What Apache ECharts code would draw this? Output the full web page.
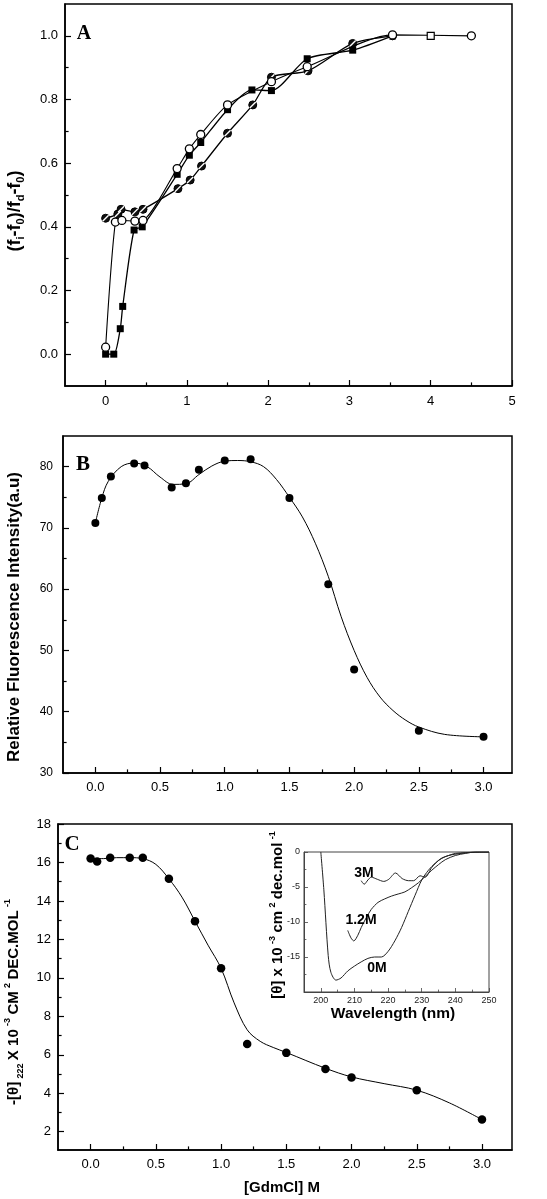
<!DOCTYPE html>
<html><head><meta charset="utf-8">
<script src="https://cdn.jsdelivr.net/npm/echarts@6/dist/echarts.min.js"></script>
<style>html,body{margin:0;padding:0;background:#fff}#c{width:547px;height:1199px}</style>
</head><body><div id="c"></div>
<script>
// ---------- Panel A ----------
const aSquareX = [0,0.1,0.18,0.21,0.35,0.45,0.88,1.03,1.17,1.5,1.8,2.04,2.48,3.04,3.53];
const aSquareY = [0,0,0.08,0.15,0.39,0.4,0.565,0.625,0.665,0.768,0.83,0.828,0.928,0.955,1.0];
const aOpenX = [0,0.12,0.2,0.36,0.46,0.88,1.03,1.17,1.5,2.04,2.48,3.53,4.5];
const aOpenY = [0.022,0.415,0.42,0.418,0.42,0.583,0.645,0.69,0.783,0.856,0.903,1.003,1.0];
const aSlashX = [0,0.15,0.19,0.36,0.46,0.89,1.04,1.18,1.5,1.81,2.04,2.49,3.04,3.53];
const aSlashY = [0.427,0.44,0.455,0.447,0.455,0.52,0.547,0.591,0.694,0.783,0.87,0.89,0.976,1.0];
const aBoxX = [4.0];
const aBoxY = [1.0];
const aXMajor = [0,1,2,3,4,5];
const aXMinor = [0.5,1.5,2.5,3.5,4.5];
const aYMajor = [0,0.2,0.4,0.6,0.8,1.0];
const aYMinor = [0.1,0.3,0.5,0.7,0.9];

// ---------- Panel B ----------
const bX = [0,0.05,0.12,0.3,0.38,0.59,0.7,0.8,1.0,1.2,1.5,1.8,2.0,2.5,3.0];
const bY = [70.8,74.9,78.4,80.5,80.2,76.6,77.3,79.5,81.0,81.2,74.9,60.8,46.9,36.9,35.9];
const bFitX = [0,0.05,0.1,0.2,0.3,0.4,0.5,0.6,0.7,0.8,0.9,1.0,1.1,1.2,1.3,1.4,1.5,1.6,1.7,1.8,1.9,2.0,2.1,2.2,2.3,2.4,2.5,2.7,3.0];
const bFitY = [70.8,74.9,77.6,80.0,80.6,80.0,78.3,77.1,77.2,78.7,80.1,80.9,81.0,80.8,80.0,77.9,75.0,71.8,67.5,62.1,55.5,50.0,45.6,42.4,40.2,38.6,37.5,36.3,35.9];
const bXMajor = [0,0.5,1.0,1.5,2.0,2.5,3.0];
const bXMinor = [0.25,0.75,1.25,1.75,2.25,2.75];
const bYMajor = [30,40,50,60,70,80];
const bYMinor = [35,45,55,65,75];

// ---------- Panel C ----------
const cX = [0,0.05,0.15,0.3,0.4,0.6,0.8,1.0,1.2,1.5,1.8,2.0,2.5,3.0];
const cY = [16.2,16.05,16.25,16.25,16.25,15.15,12.95,10.5,6.56,6.1,5.26,4.82,4.16,2.63];
const cFitX = [0,0.1,0.2,0.3,0.4,0.5,0.6,0.7,0.8,0.9,1.0,1.1,1.2,1.3,1.4,1.5,1.8,2.0,2.25,2.5,2.75,3.0];
const cFitY = [16.2,16.2,16.25,16.25,16.2,15.9,15.15,14.2,12.95,11.7,10.5,8.7,7.3,6.7,6.38,6.12,5.3,4.85,4.5,4.16,3.5,2.63];
const cXMajor = [0,0.5,1.0,1.5,2.0,2.5,3.0];
const cXMinor = [0.25,0.75,1.25,1.75,2.25,2.75];
const cYMajor = [2,4,6,8,10,12,14,16,18];
const cYMinor = [3,5,7,9,11,13,15,17];

// ---------- Inset (CD spectra) ----------
const wl0M = [200,200.9,202.2,203,204.5,206,208,210,212,214,216,218,220,222,224,226,228,230,232,234,236,238,240,243,246,250];
const cd0M = [0,-5.4,-14.8,-17.2,-18.3,-18.0,-17.0,-16.3,-15.7,-15.2,-15.0,-15.0,-14.2,-12.7,-10.8,-8.5,-6.2,-4.0,-2.6,-1.6,-0.9,-0.5,-0.2,-0.1,0,0];
const wl12M = [208,209,209.8,211,212,213.5,215,217,219,221,223,225,227,229,231,233,235,237,240,243,246,250];
const cd12M = [-11.2,-12.3,-12.7,-11.9,-10.8,-9.4,-8.2,-7.2,-6.7,-6.3,-6.0,-5.7,-5.1,-4.4,-3.5,-2.6,-1.8,-1.1,-0.5,-0.2,0,0];
const wl3M = [212,212.9,214,215,216.8,218.7,220.2,222.2,224.2,226.1,227.6,229.5,231,233,235.5,238,241.7,245,250];
const cd3M = [-4.1,-4.6,-4.0,-3.6,-3.9,-4.2,-3.9,-3.0,-3.8,-4.1,-4.1,-3.4,-3.6,-2.2,-1.0,-0.5,-0.2,-0.05,0];
const inXMajor = [200,210,220,230,240,250];
const inXMinor = [205,215,225,235,245];
const inYMajor = [-15,-10,-5,0];
const inYMinor = [-17.5,-12.5,-7.5,-2.5];

const zip = (xs, ys) => xs.map((x, i) => [x, ys[i]]);
const FONT = '"Liberation Sans", Arial, sans-serif';

const xAxes = [], yAxes = [];
function addAxes(list, dim, grid, min, max, major, minor, fmt, o) {
  const pos = dim === 'x' ? 'bottom' : 'left';
  const idx = list.length;
  list.push({
    type: 'value', gridIndex: grid, min, max, position: pos,
    axisLine: {show: true, onZero: false, lineStyle: {color: o.lineColor, width: o.lineW}},
    axisTick: {show: true, inside: true, length: o.tick, customValues: major, lineStyle: {color: o.lineColor, width: o.tickW}},
    axisLabel: {show: true, customValues: major, formatter: fmt, color: o.labelColor, fontSize: o.font, fontFamily: FONT, margin: o.margin},
    splitLine: {show: false}
  });
  list.push({
    type: 'value', gridIndex: grid, min, max, position: pos,
    axisLine: {show: false, onZero: false},
    axisTick: {show: true, inside: true, length: o.tick * 0.6, customValues: minor, lineStyle: {color: o.lineColor, width: o.tickW}},
    axisLabel: {show: false}, splitLine: {show: false}
  });
  return idx;
}
const mainStyle = {lineColor: '#000', lineW: 1.5, tick: 6, tickW: 1.2, labelColor: '#000', font: 13, margin: 8};
const inStyle = {lineColor: '#444', lineW: 1, tick: 4, tickW: 0.8, labelColor: '#222', font: 9, margin: 4};

const axA_x = addAxes(xAxes, 'x', 0, -0.5, 5, aXMajor, aXMinor, v => String(v), Object.assign({}, mainStyle, {margin: 9}));
const axA_y = addAxes(yAxes, 'y', 0, -0.1, 1.1, aYMajor, aYMinor, v => v.toFixed(1), Object.assign({}, mainStyle, {margin: 7}));
const axB_x = addAxes(xAxes, 'x', 1, -0.25, 3.22, bXMajor, bXMinor, v => v.toFixed(1), mainStyle);
const axB_y = addAxes(yAxes, 'y', 1, 30, 85, bYMajor, bYMinor, v => String(v), Object.assign({}, mainStyle, {font: 12, margin: 10}));
const axC_x = addAxes(xAxes, 'x', 2, -0.25, 3.23, cXMajor, cXMinor, v => v.toFixed(1), mainStyle);
const axC_y = addAxes(yAxes, 'y', 2, 1.05, 18, cYMajor, cYMinor, v => String(v), Object.assign({}, mainStyle, {margin: 7}));
const axI_x = addAxes(xAxes, 'x', 3, 195, 250, inXMajor, inXMinor, v => String(v), inStyle);
const axI_y = addAxes(yAxes, 'y', 3, -20, 0, inYMajor, inYMinor, v => String(v), inStyle);

const blackLine = {color: '#000', width: 1.3};
const series = [
  // Panel A
  {type: 'line', xAxisIndex: axA_x, yAxisIndex: axA_y, data: zip(aSquareX, aSquareY), smooth: 0.25,
   symbol: 'rect', symbolSize: 7, itemStyle: {color: '#000', opacity: 1}, lineStyle: blackLine, z: 3},
  {type: 'line', xAxisIndex: axA_x, yAxisIndex: axA_y, data: zip(aSlashX, aSlashY), smooth: 0.25,
   symbol: 'circle', symbolSize: 8, itemStyle: {color: '#111', borderColor: '#000', borderWidth: 1, opacity: 1}, lineStyle: blackLine, z: 4},
  {type: 'scatter', xAxisIndex: axA_x, yAxisIndex: axA_y, data: zip(aSlashX, aSlashY),
   symbol: 'path://M0,8.6 L1.4,10 L10,1.4 L8.6,0 Z', symbolSize: 7, itemStyle: {color: '#fff', opacity: 1}, z: 5},
  {type: 'line', xAxisIndex: axA_x, yAxisIndex: axA_y, data: zip(aOpenX, aOpenY), smooth: 0.25,
   symbol: 'circle', symbolSize: 8, itemStyle: {color: '#fff', borderColor: '#000', borderWidth: 1.3, opacity: 1}, lineStyle: {color: '#000', width: 1.1}, z: 6},
  {type: 'scatter', xAxisIndex: axA_x, yAxisIndex: axA_y, data: zip(aBoxX, aBoxY),
   symbol: 'rect', symbolSize: 7, itemStyle: {color: '#fff', borderColor: '#000', borderWidth: 1.2, opacity: 1}, z: 7},
  // Panel B
  {type: 'line', xAxisIndex: axB_x, yAxisIndex: axB_y, data: zip(bFitX, bFitY), smooth: 0.35,
   showSymbol: false, lineStyle: {color: '#000', width: 1}},
  {type: 'scatter', xAxisIndex: axB_x, yAxisIndex: axB_y, data: zip(bX, bY), symbol: 'circle', symbolSize: 8, itemStyle: {color: '#000', opacity: 1}},
  // Panel C
  {type: 'line', xAxisIndex: axC_x, yAxisIndex: axC_y, data: zip(cFitX, cFitY), smooth: 0.35,
   showSymbol: false, lineStyle: {color: '#000', width: 1}},
  {type: 'scatter', xAxisIndex: axC_x, yAxisIndex: axC_y, data: zip(cX, cY), symbol: 'circle', symbolSize: 8.5, itemStyle: {color: '#000', opacity: 1}},
  // Inset
  {type: 'line', xAxisIndex: axI_x, yAxisIndex: axI_y, data: zip(wl0M, cd0M), smooth: 0.3, showSymbol: false, lineStyle: {color: '#222', width: 1}},
  {type: 'line', xAxisIndex: axI_x, yAxisIndex: axI_y, data: zip(wl12M, cd12M), smooth: 0.3, showSymbol: false, lineStyle: {color: '#222', width: 1}},
  {type: 'line', xAxisIndex: axI_x, yAxisIndex: axI_y, data: zip(wl3M, cd3M), smooth: 0.3, showSymbol: false, lineStyle: {color: '#222', width: 1}}
];

function rotText(x, y, text, rich) {
  return {type: 'text', x, y, rotation: Math.PI / 2, z: 100,
    style: {text, rich, textAlign: 'center', textVerticalAlign: 'middle', fill: '#000'}};
}
function plainText(x, y, text, font) {
  return {type: 'text', x, y, z: 100, style: {text, font, fill: '#000', textAlign: 'center', textVerticalAlign: 'middle'}};
}
const graphic = [
  plainText(84, 34, 'A', 'bold 20px "Liberation Serif", serif'),
  plainText(83, 465, 'B', 'bold 21px "Liberation Serif", serif'),
  plainText(72, 845, 'C', 'bold 21px "Liberation Serif", serif'),
  rotText(15, 211, '{m|(f}{s|i}{m|-f}{s|0}{m|)/f}{s|d}{m|-f}{s|0}{m|)}', {
    m: {font: 'bold 18px ' + FONT, lineHeight: 22, fill: '#000'},
    s: {font: 'bold 11px ' + FONT, lineHeight: 14, verticalAlign: 'bottom', fill: '#000'}}),
  rotText(14, 617, '{m|Relative Fluorescence Intensity(a.u)}', {m: {font: 'bold 17px ' + FONT, fill: '#000'}}),
  rotText(14, 1002, '{m|-[θ]} {s|222} {m|X 10} {p|-3} {m|CM} {p|2} {m|DEC.MOL} {p|-1}', {
    m: {font: 'bold 15px ' + FONT, lineHeight: 22, fill: '#000'},
    s: {font: 'bold 9px ' + FONT, lineHeight: 12, verticalAlign: 'bottom', fill: '#000'},
    p: {font: 'bold 9px ' + FONT, lineHeight: 12, verticalAlign: 'top', fill: '#000'}}),
  rotText(278, 915, '{m|[θ] x 10} {p|-3} {m|cm} {p|2} {m|dec.mol} {p|-1}', {
    m: {font: 'bold 15px ' + FONT, lineHeight: 20, fill: '#000'},
    p: {font: 'bold 9px ' + FONT, lineHeight: 11, verticalAlign: 'top', fill: '#000'}}),
  plainText(393, 1014, 'Wavelength (nm)', 'bold 15.5px ' + FONT),
  plainText(282, 1188, '[GdmCl] M', 'bold 15px ' + FONT),
  plainText(364, 873, '3M', 'bold 14px ' + FONT),
  plainText(361, 920, '1.2M', 'bold 14px ' + FONT),
  plainText(377, 968, '0M', 'bold 14px ' + FONT)
];

const chart = echarts.init(document.getElementById('c'), null, {renderer: 'canvas'});
chart.setOption({
  animation: false,
  backgroundColor: '#fff',
  grid: [
    {left: 65, top: 4, width: 447, height: 382, show: true, borderColor: '#000', borderWidth: 1.5, containLabel: false},
    {left: 63, top: 436, width: 449, height: 337, show: true, borderColor: '#000', borderWidth: 1.5, containLabel: false},
    {left: 58, top: 824, width: 454, height: 326, show: true, borderColor: '#000', borderWidth: 1.5, containLabel: false},
    {left: 304, top: 852, width: 185, height: 140, show: true, borderColor: '#444', borderWidth: 1, backgroundColor: '#fff', containLabel: false}
  ],
  xAxis: xAxes,
  yAxis: yAxes,
  series,
  graphic
});
</script></body></html>
